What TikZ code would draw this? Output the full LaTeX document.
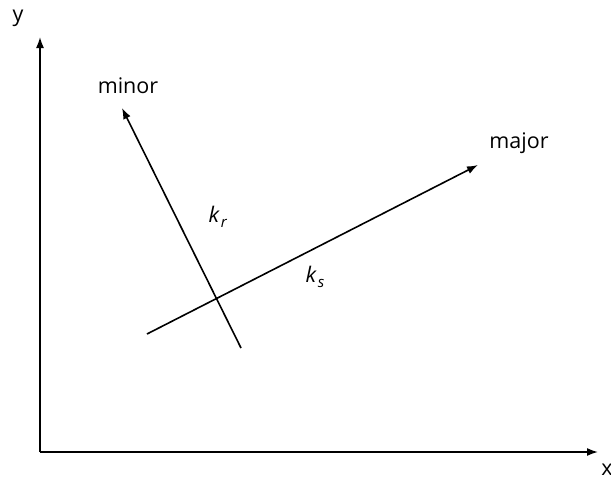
\documentclass[tikz,border=0pt]{standalone}
\usepackage{fontspec}
\setmainfont{Open Sans}
\usetikzlibrary{arrows.meta}
\newcommand{\ksub}[1]{\textit{k}\kern1pt\raisebox{-0.45ex}{\fontsize{15}{17}\selectfont\textit{#1}}}
\begin{document}
\begin{tikzpicture}[x=1pt,y=-1pt,
  axis/.style={line width=1.6pt,-{Latex[length=11pt,width=8pt]}},
  lbl/.style={font=\fontsize{21.5}{25}\selectfont,inner sep=0pt}]
\useasboundingbox (0,0) rectangle (611,483);
\coordinate (o) at (40,452);
\coordinate (ytip) at (40,37);
\coordinate (xtip) at (598,452);
\draw[axis] (o) -- (ytip);
\draw[axis] (o) -- (xtip);
\node[lbl] (ylab) at (18,18) {y};
\node[lbl] (xlab) at (607,470) {x};
\coordinate (mins) at (241,348);
\coordinate (mine) at (122,108);
\coordinate (majs) at (147,334);
\coordinate (maje) at (478,165);
\draw[axis] (mins) -- (mine);
\draw[axis] (majs) -- (maje);
\node[lbl] (minor) at (128,86) {minor};
\node[lbl] (major) at (519,143) {major};
\node[lbl] (kr) at (218,217) {\ksub{r}};
\node[lbl] (ks) at (315,277) {\ksub{s}};
\end{tikzpicture}
\end{document}
